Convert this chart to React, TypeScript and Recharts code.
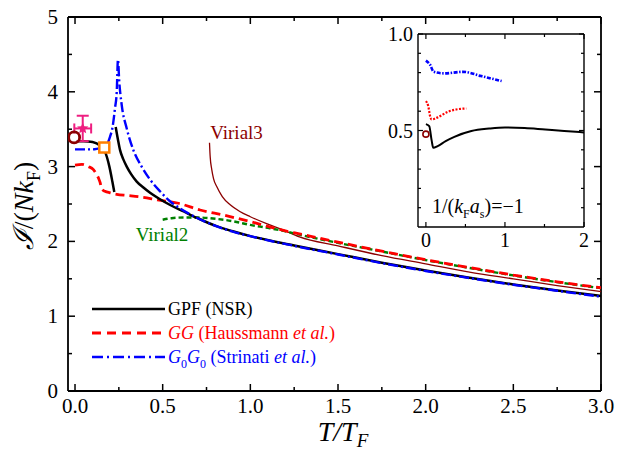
import React from 'react';
import {
  ComposedChart, LineChart, Line, Scatter, ErrorBar, XAxis, YAxis,
  ReferenceLine, ReferenceDot, Legend,
} from 'recharts';

const SERIF = '"Liberation Serif", "Times New Roman", serif';

// main panel: GPF (NSR), two branches
const gpfLowT = [0.01, 0.05, 0.10, 0.143, 0.171, 0.196, 0.213, 0.224];
const gpfLowI = [3.34, 3.34, 3.33, 3.28, 3.20, 3.00, 2.80, 2.66];
const gpfHighT = [0.232, 0.245, 0.257, 0.275, 0.295, 0.32, 0.352, 0.39, 0.428, 0.48, 0.54, 0.62, 0.7, 0.81, 0.9, 1.0, 1.25, 1.5, 1.75, 2.0, 2.25, 2.5, 2.75, 3.0];
const gpfHighI = [3.53, 3.36, 3.22, 3.10, 3.00, 2.90, 2.80, 2.72, 2.65, 2.57, 2.49, 2.40, 2.31, 2.20, 2.135, 2.07, 1.945, 1.83, 1.715, 1.61, 1.515, 1.425, 1.345, 1.27];

// GG (Haussmann et al.)
const ggT = [0, 0.04, 0.076, 0.105, 0.124, 0.135, 0.143, 0.152, 0.171, 0.2, 0.238, 0.3, 0.39, 0.47, 0.59, 0.713, 0.85, 1.0, 1.1, 1.2, 1.28, 1.5, 1.75, 2.0, 2.25, 2.5, 2.75, 3.0];
const ggI = [3.02, 3.03, 3.0, 2.96, 2.89, 2.84, 2.79, 2.70, 2.67, 2.65, 2.63, 2.615, 2.59, 2.555, 2.51, 2.42, 2.35, 2.265, 2.20, 2.14, 2.10, 1.99, 1.87, 1.755, 1.65, 1.55, 1.46, 1.38];

// G0G0 (Strinati et al.)
const g0T = [0, 0.05, 0.1, 0.13, 0.167, 0.2, 0.215, 0.228, 0.238, 0.245, 0.252, 0.266, 0.295, 0.333, 0.38, 0.43, 0.485, 0.54, 0.6, 0.7, 0.81, 0.9, 1.0, 1.25, 1.5, 1.75, 2.0, 2.25, 2.5, 2.75, 3.0];
const g0I = [3.23, 3.23, 3.23, 3.24, 3.26, 3.40, 3.54, 3.78, 4.0, 4.43, 4.15, 3.83, 3.51, 3.22, 3.0, 2.82, 2.67, 2.54, 2.44, 2.31, 2.20, 2.13, 2.07, 1.94, 1.825, 1.71, 1.605, 1.51, 1.42, 1.34, 1.26];

// virial expansions
const vir2T = [0.5, 0.55, 0.62, 0.7, 0.81, 0.9, 1.0, 1.1, 1.19, 1.28, 1.5, 1.75, 2.0, 2.25, 2.5, 2.75, 3.0];
const vir2I = [2.29, 2.31, 2.32, 2.32, 2.30, 2.27, 2.22, 2.18, 2.14, 2.09, 1.98, 1.865, 1.75, 1.645, 1.545, 1.455, 1.375];
const vir3T = [0.767, 0.771, 0.78, 0.79, 0.809, 0.84, 0.885, 0.94, 1.0, 1.1, 1.19, 1.28, 1.5, 1.75, 2.0, 2.25, 2.5, 2.75, 3.0];
const vir3I = [3.32, 3.13, 2.96, 2.84, 2.73, 2.60, 2.49, 2.40, 2.33, 2.23, 2.15, 2.06, 1.94, 1.81, 1.70, 1.59, 1.50, 1.41, 1.33];

// single points
const circleT = [-0.005];
const circleI = [3.39];
const squareT = [0.167];
const squareI = [3.255];
const expT = [0.044];
const expI = [3.51];
const expErrT = [0.048];
const expErrI = [0.17];

// inset, 1/(kF as) = -1
const inGpfT = [0, 0.042, 0.072, 0.093, 0.149, 0.25, 0.36, 0.575, 0.8, 1.0, 1.25, 1.51, 1.75, 2.0];
const inGpfI = [0.533, 0.523, 0.45, 0.41, 0.419, 0.445, 0.467, 0.497, 0.51, 0.516, 0.513, 0.505, 0.498, 0.49];
const inGgT = [0, 0.03, 0.055, 0.072, 0.149, 0.277, 0.383, 0.511];
const inGgI = [0.652, 0.626, 0.571, 0.557, 0.568, 0.597, 0.609, 0.614];
const inG0T = [0, 0.055, 0.098, 0.234, 0.468, 0.70, 0.958];
const inG0I = [0.862, 0.839, 0.804, 0.796, 0.804, 0.782, 0.756];
const inCircleT = [0];
const inCircleI = [0.481];

const xTicks = [0, 0.25, 0.5, 0.75, 1, 1.25, 1.5, 1.75, 2, 2.25, 2.5, 2.75, 3];
const yTicks = [0, 0.5, 1, 1.5, 2, 2.5, 3, 3.5, 4, 4.5, 5];
const inXTicks = [0, 0.5, 1, 1.5, 2];
const inYTicks = [0.1, 0.2, 0.3, 0.4, 0.5, 0.6, 0.7, 0.8, 0.9, 1.0];

const zip = (t: number[], v: number[]) => t.map((x, i) => ({ t: x, v: v[i] }));

const MAIN_W = 533;
const MAIN_H = 374;
const IN_W = 166;
const IN_H = 193;

const MainXTick = (props: any) => {
  const { x, y, payload } = props;
  const v = payload.value as number;
  const major = Math.abs(v * 2 - Math.round(v * 2)) < 1e-6;
  const len = major ? 7 : 4;
  return (
    <g>
      <line x1={x} x2={x} y1={y} y2={y - len} stroke="#000" strokeWidth={1.5} />
      <line x1={x} x2={x} y1={y - MAIN_H} y2={y - MAIN_H + len} stroke="#000" strokeWidth={1.5} />
      {major && (
        <text x={x} y={y + 22} textAnchor="middle" fontSize={21} fontFamily={SERIF} fill="#000">
          {v.toFixed(1)}
        </text>
      )}
    </g>
  );
};

const MainYTick = (props: any) => {
  const { x, y, payload } = props;
  const v = payload.value as number;
  const major = Number.isInteger(v);
  const len = major ? 7 : 4;
  return (
    <g>
      <line x1={x} x2={x + len} y1={y} y2={y} stroke="#000" strokeWidth={1.5} />
      <line x1={x + MAIN_W} x2={x + MAIN_W - len} y1={y} y2={y} stroke="#000" strokeWidth={1.5} />
      {major && (
        <text x={x - 10} y={y + 7} textAnchor="end" fontSize={21} fontFamily={SERIF} fill="#000">
          {v}
        </text>
      )}
    </g>
  );
};

const InXTick = (props: any) => {
  const { x, y, payload } = props;
  const v = payload.value as number;
  const major = Number.isInteger(v);
  const len = major ? 5 : 3;
  return (
    <g>
      <line x1={x} x2={x} y1={y} y2={y - len} stroke="#000" strokeWidth={1.2} />
      <line x1={x} x2={x} y1={y - IN_H} y2={y - IN_H + len} stroke="#000" strokeWidth={1.2} />
      {major && (
        <text x={x} y={y + 20} textAnchor="middle" fontSize={20} fontFamily={SERIF} fill="#000">
          {v}
        </text>
      )}
    </g>
  );
};

const InYTick = (props: any) => {
  const { x, y, payload } = props;
  const v = payload.value as number;
  const major = Math.abs(v * 2 - Math.round(v * 2)) < 1e-6;
  const len = major ? 5 : 3;
  return (
    <g>
      <line x1={x} x2={x + len} y1={y} y2={y} stroke="#000" strokeWidth={1.2} />
      <line x1={x + IN_W} x2={x + IN_W - len} y1={y} y2={y} stroke="#000" strokeWidth={1.2} />
      {major && (
        <text x={x - 5} y={y + 7} textAnchor="end" fontSize={20} fontFamily={SERIF} fill="#000">
          {v.toFixed(1)}
        </text>
      )}
    </g>
  );
};

const starPath = (cx: number, cy: number, r: number) => {
  const pts: string[] = [];
  for (let i = 0; i < 10; i++) {
    const rr = i % 2 === 0 ? r : r * 0.45;
    const a = -Math.PI / 2 + (i * Math.PI) / 5;
    pts.push(`${cx + rr * Math.cos(a)},${cy + rr * Math.sin(a)}`);
  }
  return `M${pts.join('L')}Z`;
};

const legendRows = [
  { color: '#000', dash: undefined, width: 2.5 },
  { color: '#ff0000', dash: '9 6', width: 2.8 },
  { color: '#0000ff', dash: '11 4 2 4', width: 2.5 },
];

const LegendBox = () => (
  <svg width={330} height={76} style={{ overflow: 'visible' }}>
    {legendRows.map((r, i) => (
      <line key={i} x1={4} x2={77} y1={13 + 24 * i} y2={13 + 24 * i}
        stroke={r.color} strokeWidth={r.width} strokeDasharray={r.dash} />
    ))}
    <text x={80} y={19} fontSize={18} fontFamily={SERIF} fill="#000">GPF (NSR)</text>
    <text x={80} y={43} fontSize={18} fontFamily={SERIF} fill="#ff0000">
      <tspan fontStyle="italic">GG</tspan> (Haussmann <tspan fontStyle="italic">et al.</tspan>)
    </text>
    <text x={80} y={67} fontSize={18} fontFamily={SERIF} fill="#0000ff">
      <tspan fontStyle="italic">G</tspan>
      <tspan fontSize={12} dy={5}>0</tspan>
      <tspan fontStyle="italic" dy={-5}>G</tspan>
      <tspan fontSize={12} dy={5}>0</tspan>
      <tspan dy={-5}> (Strinati </tspan>
      <tspan fontStyle="italic">et al.</tspan>)
    </text>
  </svg>
);

const YTitle = () => (
  <text transform="translate(33,206) rotate(-90)" textAnchor="middle" fontSize={28} fontFamily={SERIF} fill="#000">
    <tspan fontStyle="italic">ℐ</tspan>/(<tspan fontStyle="italic">N</tspan>
    <tspan fontStyle="italic">k</tspan>
    <tspan fontSize={18} dy={7}>F</tspan>
    <tspan dy={-7}>)</tspan>
  </text>
);

const XTitle = () => (
  <text x={343} y={441} textAnchor="middle" fontSize={28} fontFamily={SERIF} fill="#000" fontStyle="italic">
    T/T<tspan fontSize={19} dy={6}>F</tspan>
  </text>
);

const textLabel = (value: string, color: string) => (p: any) => (
  <text x={p.viewBox.x} y={p.viewBox.y} textAnchor="middle" fontSize={19} fontFamily={SERIF} fill={color}>
    {value}
  </text>
);

const App = () => {
  const expData = expT.map((t, i) => ({ t, v: expI[i], ex: expErrT[i], ey: expErrI[i] }));
  return (
    <div style={{ position: 'absolute', left: 0, top: 0, width: 620, height: 455, background: '#fff' }}>
      <ComposedChart width={620} height={455} margin={{ top: 17, right: 19, left: 0, bottom: 0 }}>
        <XAxis type="number" dataKey="t" domain={[-0.04, 3]} ticks={xTicks} interval={0} allowDataOverflow
          height={64} tickSize={0} tickMargin={0} tickLine={false} tick={<MainXTick />}
          axisLine={{ stroke: '#000', strokeWidth: 1.8 }} />
        <YAxis type="number" dataKey="v" domain={[0, 5]} ticks={yTicks} interval={0} allowDataOverflow
          width={68} tickSize={0} tickMargin={0} tickLine={false} tick={<MainYTick />}
          axisLine={{ stroke: '#000', strokeWidth: 1.8 }} />
        <ReferenceLine x={3} stroke="#000" strokeWidth={1.8} />
        <ReferenceLine y={5} stroke="#000" strokeWidth={1.8} />

        <Line data={zip(vir3T, vir3I)} dataKey="v" type="monotone" stroke="#8b0000" strokeWidth={1.3} dot={false} isAnimationActive={false} />
        <Line data={zip(vir2T, vir2I)} dataKey="v" type="monotone" stroke="#008000" strokeWidth={2.4} strokeDasharray="5 3" dot={false} isAnimationActive={false} />
        <Line data={zip(ggT, ggI)} dataKey="v" type="monotone" stroke="#ff0000" strokeWidth={2.8} strokeDasharray="9 5" dot={false} isAnimationActive={false} />
        <Line data={zip(gpfLowT, gpfLowI)} dataKey="v" type="monotone" stroke="#000" strokeWidth={2.5} dot={false} isAnimationActive={false} />
        <Line data={zip(gpfHighT, gpfHighI)} dataKey="v" type="monotone" stroke="#000" strokeWidth={2.5} dot={false} isAnimationActive={false} />
        <Line data={zip(g0T, g0I)} dataKey="v" type="monotone" stroke="#0000ff" strokeWidth={2.4} strokeDasharray="10 3 2 3" dot={false} isAnimationActive={false} />

        <Scatter data={zip(circleT, circleI)} isAnimationActive={false}
          shape={(p: any) => <circle cx={p.cx} cy={p.cy} r={5.5} fill="none" stroke="#8b0000" strokeWidth={2.8} />} />
        <Scatter data={zip(squareT, squareI)} isAnimationActive={false}
          shape={(p: any) => <rect x={p.cx - 5} y={p.cy - 5} width={10} height={10} fill="#fff" stroke="#ff7f00" strokeWidth={2.5} />} />
        <Scatter data={expData} isAnimationActive={false}
          shape={(p: any) => <path d={starPath(p.cx, p.cy, 6)} fill="#ee1e80" />}>
          <ErrorBar dataKey="ey" direction="y" width={6} stroke="#ee1e80" strokeWidth={2} />
          <ErrorBar dataKey="ex" direction="x" width={5} stroke="#ee1e80" strokeWidth={2} />
        </Scatter>

        <ReferenceDot x={0.927} y={3.36} r={1} fill="none" stroke="none" label={{ content: textLabel('Virial3', '#8b0000') }} />
        <ReferenceDot x={0.502} y={1.99} r={1} fill="none" stroke="none" label={{ content: textLabel('Virial2', '#008000') }} />

        <Legend layout="vertical" align="center" verticalAlign="middle" content={() => <LegendBox />}
          wrapperStyle={{ left: 88, top: 296, width: 330, height: 76 }} />
        <YTitle />
        <XTitle />
      </ComposedChart>

      <div style={{ position: 'absolute', left: 360, top: 24, width: 230, height: 235 }}>
        <LineChart width={230} height={235} margin={{ top: 10, right: 6, left: 0, bottom: 0 }}>
          <XAxis type="number" dataKey="t" domain={[-0.1, 2]} ticks={inXTicks} interval={0} allowDataOverflow
            height={32} tickSize={0} tickMargin={0} tickLine={false} tick={<InXTick />}
            axisLine={{ stroke: '#000', strokeWidth: 1.4 }} />
          <YAxis type="number" dataKey="v" domain={[0, 1]} ticks={inYTicks} interval={0} allowDataOverflow
            width={58} tickSize={0} tickMargin={0} tickLine={false} tick={<InYTick />}
            axisLine={{ stroke: '#000', strokeWidth: 1.4 }} />
          <ReferenceLine x={2} stroke="#000" strokeWidth={1.4} />
          <ReferenceLine y={1} stroke="#000" strokeWidth={1.4} />
          <Line data={zip(inG0T, inG0I)} dataKey="v" type="monotone" stroke="#0000ff" strokeWidth={2.6} strokeDasharray="4 1.5 1.5 1.5" dot={false} isAnimationActive={false} />
          <Line data={zip(inGgT, inGgI)} dataKey="v" type="monotone" stroke="#ff0000" strokeWidth={2.2} strokeDasharray="2 1.5" dot={false} isAnimationActive={false} />
          <Line data={zip(inGpfT, inGpfI)} dataKey="v" type="monotone" stroke="#000" strokeWidth={2} dot={false} isAnimationActive={false} />
          <ReferenceDot x={inCircleT[0]} y={inCircleI[0]} r={3} fill="none" stroke="#8b0000" strokeWidth={1.6} />
          <text x={72} y={189} fontSize={20} fontFamily={SERIF} fill="#000">
            1/(<tspan fontStyle="italic">k</tspan>
            <tspan fontSize={12} dy={5}>F</tspan>
            <tspan fontStyle="italic" dy={-5}>a</tspan>
            <tspan fontSize={12} dy={5}>s</tspan>
            <tspan dy={-5}>)=−1</tspan>
          </text>
        </LineChart>
      </div>
    </div>
  );
};

export default App;
